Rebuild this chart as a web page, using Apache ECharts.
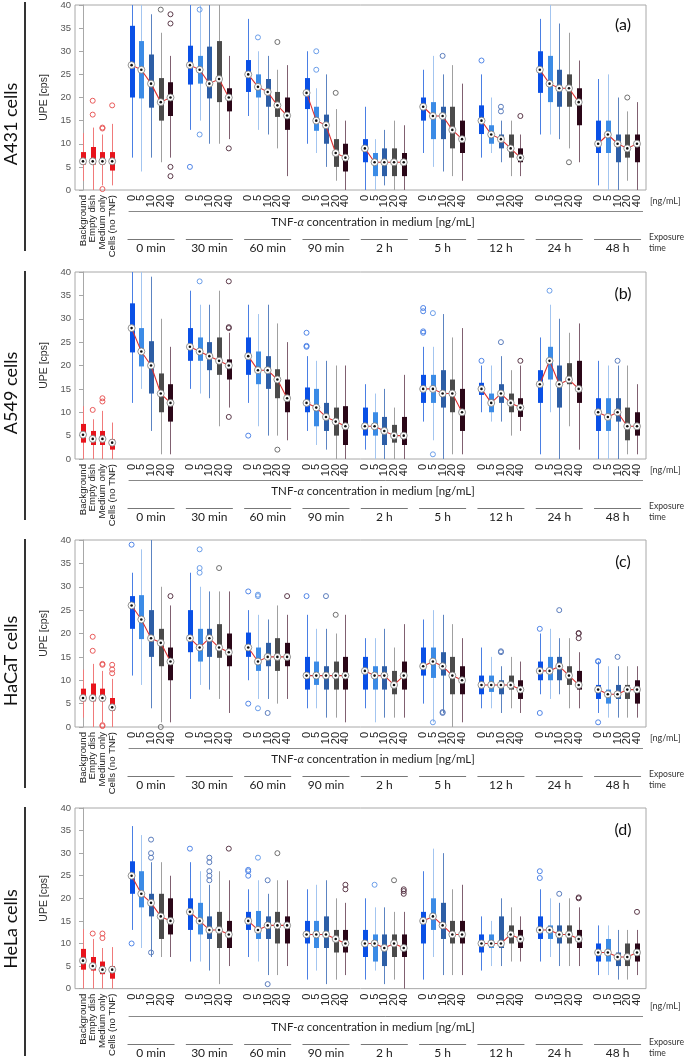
<!DOCTYPE html>
<html><head><meta charset="utf-8">
<script src="https://cdn.jsdelivr.net/npm/echarts@6/dist/echarts.min.js"></script>
<style>html,body{margin:0;padding:0;background:#fff}#c{width:685px;height:1059px}</style>
</head><body><div id="c"></div><script>
// ---------------- DATA ----------------
const panelNames = ['A431 cells', 'A549 cells', 'HaCaT cells', 'HeLa cells'];
const panelTags = ['(a)', '(b)', '(c)', '(d)'];
const controlLabels = ['Background', 'Empty dish', 'Medium only', 'Cells (no TNF)'];
const concLabels = ['0', '5', '10', '20', '40'];
const timeLabels = ['0 min', '30 min', '60 min', '90 min', '2 h', '5 h', '12 h', '24 h', '48 h'];
const yTicks = [0, 40, 5];

// box stats [min, q1, median, q3, max]; 4 controls, then 9 exposure times x 5 concentrations
const boxesA431 = [
  [2,5.5,6.2,8.2,12.3],[0,5.5,6.2,9.3,13.5],[1,5.5,6.2,8.2,12],[1,4.2,6.2,8.2,14.3],
  [7,20,27,35.5,40],[4,19.8,26,32.2,40],[7,17.8,23,29.3,38],[6,15,19,24.2,34],[7,16,20,23.3,29],
  [13,22.8,27,31.2,40],[15,23,26,29,40],[10,19.8,23,31,40],[10,19,24,32.2,40],[11,17,20,22,29],
  [16,21.2,25,28.1,37],[13,20,22.3,25,30],[12,18,21.2,24,29],[9,15.8,18.3,21.2,26],[3,13,16.1,20,27],
  [10,17.5,21,24.2,30],[8,12.8,15,18,22],[5,10,14,16.3,25],[2,5,8,11,17.5],[0,4,7,10,15],
  [0,6,9,11,18],[0,3,6,8,11],[1,3,6,9,13],[0,3,6,9,15],[0,3,6,8,14],
  [8,15,18,20,26],[5,11,16,19,29],[4,11,16,18,25],[3,9,13,18,27],[2,8,11,15,23],
  [7,12.1,15,18.3,25],[8,10,12,14,20],[6,9,11,12,15],[3,7,9,12,15],[3,6,7,9,12],
  [12,21,26,30,37],[12,19,23,29,40],[11,18,22,26,36],[9,18,22,25,34],[6,14,19,22,28],
  [1,8,10,15,24],[0,8,12,15,25],[0,6,10,12,20],[2,7,9,12,17],[0,6,10,12,19]
];
const outliersA431 = [
  [1,16.3],[1,19.3],[2,13.3],[2,13.5],[2,0.2],[3,18.3],
  [7,39],[8,38],[8,36],[8,5],[8,3],
  [9,5],[10,39],[10,12],[13,9],
  [15,33],[17,32],
  [20,30],[20,26],[22,21],
  [31,29],
  [34,28],[36,18],[36,17],[38,16],
  [42,6],[47,20]
];
const boxesA549 = [
  [0,3.5,5.2,7.5,11.3],[0,3,4.3,6,8.5],[0,3,4.3,6,10.3],[0,2,3.5,4.2,7.8],
  [12,22.8,28,33.3,40],[15,19.8,23,28,40],[6,14,20,25.2,39],[1,10,14,18.3,30],[1,8,12,16,24],
  [15,21,24,28,36],[14,21,23,26,33],[13,19,22,25,33],[7,18,21,26,36],[11,17,20,21.3,27],
  [12,18,22,26,33],[7,16,19,23,31],[5,15,19,22,33],[5,13,17,19.2,29],[4,10,13,17,25],
  [6,10,12,15.3,22],[3,7,11,15,21],[2,6,9,12,21],[0,5,8,11,20],[0,3,7,11.3,20],
  [2,5,7,11,16],[0,5,7,10,14],[0,3,6,9,15],[0,3.5,5,7.3,11],[0,3,5,9,18],
  [8,12,15,18,24],[4,12,15,18,24],[0,11,14,19,31],[1,10,14,17,26],[1,6,10,15,28],
  [10,13.7,15,16.3,20],[8,10,12,14,20],[8,12,14,16,22],[5,10,12,14,19],[6,9,11,13,20],
  [1,12,16,19,26],[10,17,21,24,33],[0,11,16,20,30],[7,16,17,20.5,27],[2,12,15,21,29],
  [0,6,10,13,21],[0,6,9,13,20],[0,8,10,13,20],[1,4,7,11,20],[1,5,7,10,16]
];
const outliersA549 = [
  [1,10.5],[2,12.3],[2,13],
  [10,38],[13,38],[13,28],[13,28.2],[13,9],
  [14,5],[17,2],
  [19,24],[19,24.2],[19,27],
  [29,27],[29,27.3],[29,31.6],[29,32.3],[30,31.2],[30,1],
  [34,21],[36,25],[38,21],
  [40,36],[46,21]
];
const boxesHaCaT = [
  [2,5.5,6.2,8.2,12.3],[0,5.5,6.2,9.3,13.5],[1,5.5,6.2,8.2,12],[0,3.5,4.2,6.2,10.3],
  [11,21,26,28,33],[9,18.8,23,28.2,38],[4,15,19,25,40],[1,13,18,21,30],[1,10,14,17,26],
  [6,16,19,25,33],[9,14,17,21,30],[8,15,19,21,29],[6,14.8,17,22,29],[3,13,16,20,29],
  [10,15,17,20.2,25],[6,12,14,17,24],[6,13,15,18,23],[5,12,15,19,26],[6,13,15,18,24],
  [4,8,11,15,24],[4,9,11,14,21],[2,8,11,13,21],[2,8,11,14,20],[1,8,11,15,24],
  [4,8,12,15,19],[1,8,11,13,19],[2,8,11,13,21],[2,7,9,12,17],[2,8,11,14,22],
  [5,11,13,17,23],[1,10.5,14,17,25],[3,11,13,16,24],[0,7,11,15,22],[1,7,10,13,19],
  [4,7,9,11,17],[4,7.5,9,11,15],[3,7,9,10,13],[4,8,9,11,15],[3,6,8,10,14],
  [7,10,12,14,20],[6,10,12,15,21],[7,10,13,15,19],[4,9,11,13,19],[4,8,9,12,16],
  [3,6,8,9,14],[2,5,7,8,13],[2,6,7,9,13],[2,6,8,9,13],[2,5,8,10,13]
];
const outliersHaCaT = [
  [1,16.3],[1,19.3],[2,13.3],[2,13.5],[2,0.2],[2,0.4],[3,11.5],[3,12.3],[3,13.3],
  [4,39],[7,0],[8,28],
  [10,33],[10,34],[10,38],[12,34],
  [14,29],[14,5],[15,28],[15,28.3],[15,4],[16,3],[18,28],
  [19,28],[21,28],[22,24],
  [30,1],[31,3],[31,3.2],
  [36,16],[36,16.2],
  [39,21],[39,3],[41,25],[43,20],[43,20.1],[43,19],
  [44,14],[44,14.1],[44,1],[46,15]
];
const boxesHeLa = [
  [0,4.2,6.2,8.8,13.2],[0,4,5,7,11],[0,3.2,4.2,6,9],[0,2.2,4.2,5,9.2],
  [13,21,25,28.2,36],[9,18,21,26,34],[7,16,19,21,28],[7,11,16,21,28],[7,12,15,20,25],
  [6,13,17,20,28],[6,12,15,19,26],[4,11,13,16,23],[1,9,13,17,26],[5,9,12,15,24],
  [7,13,15,17,22],[6,11,13,17.2,24],[3,11,14,16,21],[3,10,14,17,24],[5,10,14,16,24],
  [2,10,12,15,22],[4,9,12,15,23],[1,9,12,16,24],[2,8,11,13,20],[3,8,10,13,19],
  [2,7,10,13,20],[4,6,10,12,18],[1,5,9,12,18],[2,7,10,12,17],[0,7,9,12,17],
  [2,10,15,17,26],[7,13,16,20,31],[3,11,14,19,30],[3,10,12,15,22],[3,10,12,15,23],
  [4,8,10,12,16],[5,9,10,12,15],[5,9,10,16,20],[6,10,12,14,18],[6,9,11,13,16],
  [6,11,13,16,22],[7,11,13,14,20],[5,10,12,14,19],[5,10,12,14,20],[5,9,11,13,18],
  [3,6,8,10,14],[3,6,8,11,14],[2,5,7,8,13],[2,5,7,10,13],[3,6,8,10,13]
];
const outliersHeLa = [
  [1,12.2],[2,11.2],[2,12.2],
  [4,10],[6,33],[6,30],[6,29],[6,8],
  [9,31],[11,24],[11,25],[11,26],[11,28],[11,29],[13,31],
  [14,25],[14,26],[14,26.3],[15,29],[16,24],[16,1],[17,30],
  [23,22],[23,23],
  [25,23],[27,24],[28,21],[28,21.6],[28,22],
  [39,26],[39,24.5],[41,21],[43,20],[43,20.2],
  [48,17]
];
const panelBoxes = [boxesA431, boxesA549, boxesHaCaT, boxesHeLa];
const panelOutliers = [outliersA431, outliersA549, outliersHaCaT, outliersHeLa];

// ---------------- LAYOUT / STYLE ----------------
const TOPS = [3, 272, 540, 808];
const GRID_LEFT = 75, GRID_W = 571, GRID_H = 187;
const XMIN = -0.823, XMAX = 57.926;
const BOX_FILL = ['#0a50e6','#3b8be6','#2d5ea6','#4b4b4b','#2b0718','#e8141c'];
const WHISK    = ['#4a7fe4','#a3c5f0','#5c84c2','#a0a0a0','#806070','#f07a7a'];
const OUTL     = ['#4f84e6','#6a9de8','#5a7cbc','#6e6e6e','#5a3848','#e85a5a'];

function slotOf(i) { return i < 4 ? i : 5 + 6 * Math.floor((i - 4) / 5) + (i - 4) % 5; }
function colorIdx(i) { return i < 4 ? 5 : (i - 4) % 5; }
const nBoxes = 4 + 5 * timeLabels.length;
const slotLabel = {};
const slotsEven = [], slotsOdd = [];
for (let i = 0; i < nBoxes; i++) {
  const s = slotOf(i);
  (i % 2 === 0 ? slotsEven : slotsOdd).push(s);
  slotLabel[s] = i < 4 ? '{b|' + controlLabels[i] + '}' : '{c|' + concLabels[(i - 4) % 5] + '}';
}

const chart = echarts.init(document.getElementById('c'), null, {renderer: 'canvas'});
const grids = [], xAxes = [], yAxes = [], series = [];
function makeXAxis(p, slots) {
  return {gridIndex: p, type: 'value', min: XMIN, max: XMAX, position: 'bottom',
    axisLine: {show: false}, axisTick: {show: false}, splitLine: {show: false},
    axisLabel: {customValues: slots, rotate: 90, margin: 5, color: '#222',
      showMinLabel: true, showMaxLabel: true,
      formatter: v => slotLabel[Math.round(v)] || '',
      rich: {b: {fontSize: 9.6, fontFamily: 'Liberation Sans', color: '#222'},
             c: {fontSize: 11, fontFamily: 'Liberation Sans', color: '#222'}}}};
}
for (let p = 0; p < 4; p++) {
  const boxes = panelBoxes[p], outs = panelOutliers[p];
  grids.push({left: GRID_LEFT, width: GRID_W, top: TOPS[p], height: GRID_H, show: true,
    borderColor: '#a8a8a8', borderWidth: 1, backgroundColor: 'transparent'});
  xAxes.push(makeXAxis(p, slotsEven));
  xAxes.push(makeXAxis(p, slotsOdd));
  yAxes.push({gridIndex: p, type: 'value', position: 'left', min: yTicks[0], max: yTicks[1], interval: yTicks[2],
    axisLine: {show: true, lineStyle: {color: '#a8a8a8'}},
    axisTick: {show: true, length: 3, lineStyle: {color: '#a8a8a8'}},
    axisLabel: {fontSize: 9.5, color: '#555', fontFamily: 'Liberation Sans', margin: 4},
    splitLine: {show: false},
    name: 'UPE [cps]', nameLocation: 'middle', nameGap: 24, nameRotate: 90,
    nameTextStyle: {fontSize: 10.5, color: '#333', fontFamily: 'Liberation Sans'}});
  yAxes.push({gridIndex: p, type: 'value', position: 'right', min: yTicks[0], max: yTicks[1], interval: yTicks[2],
    axisLine: {show: false}, axisTick: {show: true, inside: true, length: 4, lineStyle: {color: '#a8a8a8'}},
    axisLabel: {show: false}, splitLine: {show: false}});
  const xi = 2 * p, yi = 2 * p;

  series.push({
    type: 'custom', xAxisIndex: xi, yAxisIndex: yi, silent: true, z: 2,
    data: boxes.map((b, i) => [slotOf(i), b[0], b[1], b[2], b[3], b[4], colorIdx(i)]),
    encode: {x: 0, y: [1, 2, 3, 4, 5]},
    renderItem: (params, api) => {
      const x = api.value(0), ci = api.value(6);
      const pMin = api.coord([x, api.value(1)]), pQ1 = api.coord([x, api.value(2)]);
      const pQ3 = api.coord([x, api.value(4)]), pMax = api.coord([x, api.value(5)]);
      const cx = Math.round(pMin[0]) + 0.5, w = 5;
      return {type: 'group', children: [
        {type: 'line', shape: {x1: cx, y1: pMin[1], x2: cx, y2: pMax[1]}, style: {stroke: WHISK[ci], lineWidth: 1}},
        {type: 'rect', shape: {x: cx - w / 2, y: pQ3[1], width: w, height: pQ1[1] - pQ3[1]}, style: {fill: BOX_FILL[ci]}}
      ]};
    }
  });
  series.push({
    type: 'scatter', xAxisIndex: xi, yAxisIndex: yi, silent: true, z: 3, symbol: 'circle', symbolSize: 5,
    data: outs.map(([i, v]) => ({value: [slotOf(i), v],
      itemStyle: {color: 'rgba(255,255,255,0)', borderColor: OUTL[colorIdx(i)], borderWidth: 1, opacity: 1}}))
  });
  const lineData = [];
  for (let g = 0; g < timeLabels.length; g++) {
    for (let j = 0; j < 5; j++) { const i = 4 + 5 * g + j; lineData.push([slotOf(i), boxes[i][2]]); }
    lineData.push([slotOf(4 + 5 * g + 4) + 0.5, '-']);
  }
  series.push({type: 'line', xAxisIndex: xi, yAxisIndex: yi, silent: true, z: 4, data: lineData,
    showSymbol: false, connectNulls: false, lineStyle: {color: '#dc3232', width: 1.1}});
  const medData = boxes.map((b, i) => [slotOf(i), b[2]]);
  series.push({type: 'scatter', xAxisIndex: xi, yAxisIndex: yi, silent: true, z: 5, symbol: 'circle', symbolSize: 7,
    data: medData, itemStyle: {color: '#fff', borderColor: '#777', borderWidth: 0.8, opacity: 1}});
  series.push({type: 'scatter', xAxisIndex: xi, yAxisIndex: yi, silent: true, z: 6, symbol: 'circle', symbolSize: 2.6,
    data: medData, itemStyle: {color: '#111', opacity: 1}});
}

chart.setOption({animation: false, grid: grids, xAxis: xAxes, yAxis: yAxes, series: series});

// ---------------- ANNOTATIONS (positions from axes) ----------------
const graphics = [];
const FONT = 'Lato, "Open Sans", sans-serif';
for (let p = 0; p < 4; p++) {
  const T = TOPS[p];
  const px = s => chart.convertToPixel({xAxisIndex: 2 * p}, s);
  graphics.push({type: 'line', shape: {x1: 25, y1: T - 1, x2: 25, y2: T + 248}, style: {stroke: '#000', lineWidth: 1.6}});
  graphics.push({type: 'text', x: 11, y: T + 121, rotation: Math.PI / 2,
    style: {text: panelNames[p], font: '18px ' + FONT, fill: '#111', align: 'center', verticalAlign: 'middle'}});
  graphics.push({type: 'text', x: 623, y: T + 22,
    style: {text: panelTags[p], font: '16px ' + FONT, fill: '#111', align: 'center', verticalAlign: 'middle'}});
  graphics.push({type: 'line', shape: {x1: px(5) - 3, y1: T + 208.5, x2: 643, y2: T + 208.5}, style: {stroke: '#888', lineWidth: 1}});
  graphics.push({type: 'text', x: 373, y: T + 219,
    style: {text: 'TNF-{i|α} concentration in medium [ng/mL]', font: '11.5px ' + FONT, fill: '#222',
      align: 'center', verticalAlign: 'middle',
      rich: {i: {fontStyle: 'italic', fontSize: 11.5, fontFamily: FONT, fill: '#222'}}}});
  graphics.push({type: 'text', x: 650, y: T + 198,
    style: {text: '[ng/mL]', font: '9px ' + FONT, fill: '#333', align: 'left', verticalAlign: 'middle'}});
  graphics.push({type: 'text', x: 649, y: T + 234,
    style: {text: 'Exposure', font: '8.6px ' + FONT, fill: '#333', align: 'left', verticalAlign: 'middle'}});
  graphics.push({type: 'text', x: 649, y: T + 245,
    style: {text: 'time', font: '8.6px ' + FONT, fill: '#333', align: 'left', verticalAlign: 'middle'}});
  for (let g = 0; g < timeLabels.length; g++) {
    const c = px(7 + 6 * g);
    graphics.push({type: 'line', shape: {x1: c - 23.5, y1: T + 236.5, x2: c + 23.5, y2: T + 236.5}, style: {stroke: '#777', lineWidth: 1}});
    graphics.push({type: 'text', x: c, y: T + 245,
      style: {text: timeLabels[g], font: '12px ' + FONT, fill: '#222', align: 'center', verticalAlign: 'middle'}});
  }
}
chart.setOption({graphic: graphics});
</script></body></html>
